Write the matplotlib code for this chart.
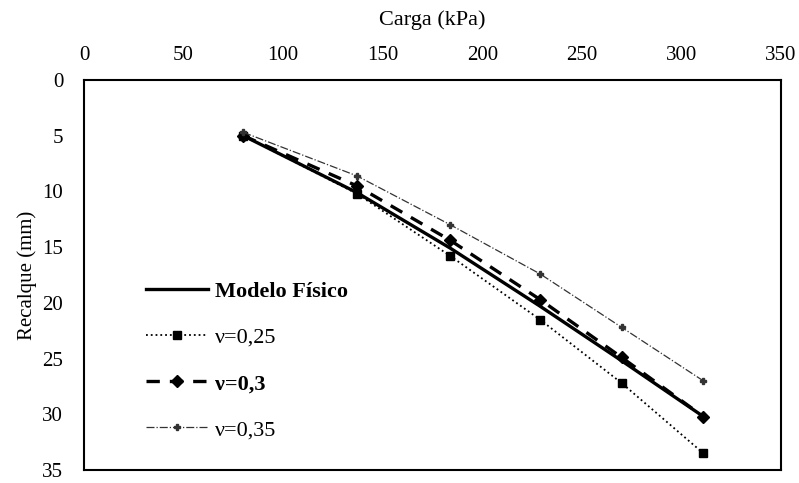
import matplotlib.pyplot as plt

plt.rcParams['font.family'] = 'Liberation Serif'
plt.rcParams['font.size'] = 15

# load (kPa) at each stage
carga = [80, 137, 184, 229, 270, 311]

# settlement (mm)
modelo_fisico = [5.0, 10.1, 15.1, 20.3, 25.2, 30.2]
nu_025 = [5.0, 10.2, 15.8, 21.5, 27.2, 33.5]
nu_03 = [5.0, 9.5, 14.4, 19.7, 24.9, 30.2]
nu_035 = [4.7, 8.6, 13.0, 17.4, 22.2, 27.0]

fig = plt.figure(figsize=(7.99, 4.83), dpi=100)
ax = fig.add_axes([84/799, 1 - 470/483, 697/799, 390/483])

ax.plot(carga, modelo_fisico, '-', color='black', lw=2.4,
        label='Modelo Físico')
ax.plot(carga, nu_025, ':', color='black', lw=1.3, marker='s', ms=6,
        label='ν=0,25')
ax.plot(carga, nu_03, '--', color='black', lw=2.4, marker='D', ms=6,
        dashes=(4, 3), label='ν=0,3')
ax.plot(carga, nu_035, '-.', color='#333333', lw=0.9, marker='P', ms=5,
        label='ν=0,35')

ax.set_xlim(0, 350)
ax.set_ylim(35, 0)
ax.xaxis.tick_top()
ax.xaxis.set_label_position('top')
ax.set_xticks(range(0, 351, 50))
ax.set_yticks(range(0, 36, 5))
ax.tick_params(axis='x', length=0, pad=11)
ax.tick_params(axis='y', length=0, pad=15)
ax.set_xlabel('Carga (kPa)', fontsize=16, labelpad=15)
ax.set_ylabel('Recalque (mm)', fontsize=15, labelpad=4)
for s in ax.spines.values():
    s.set_linewidth(1.5)

leg = ax.legend(loc='upper left', bbox_to_anchor=(0.06, 0.535), frameon=False,
                fontsize=16, handlelength=2.8, labelspacing=1.15,
                handletextpad=0.3)
for t in leg.get_texts():
    if t.get_text() in ('Modelo Físico', 'ν=0,3'):
        t.set_fontweight('bold')

plt.savefig('out.png', dpi=100)
